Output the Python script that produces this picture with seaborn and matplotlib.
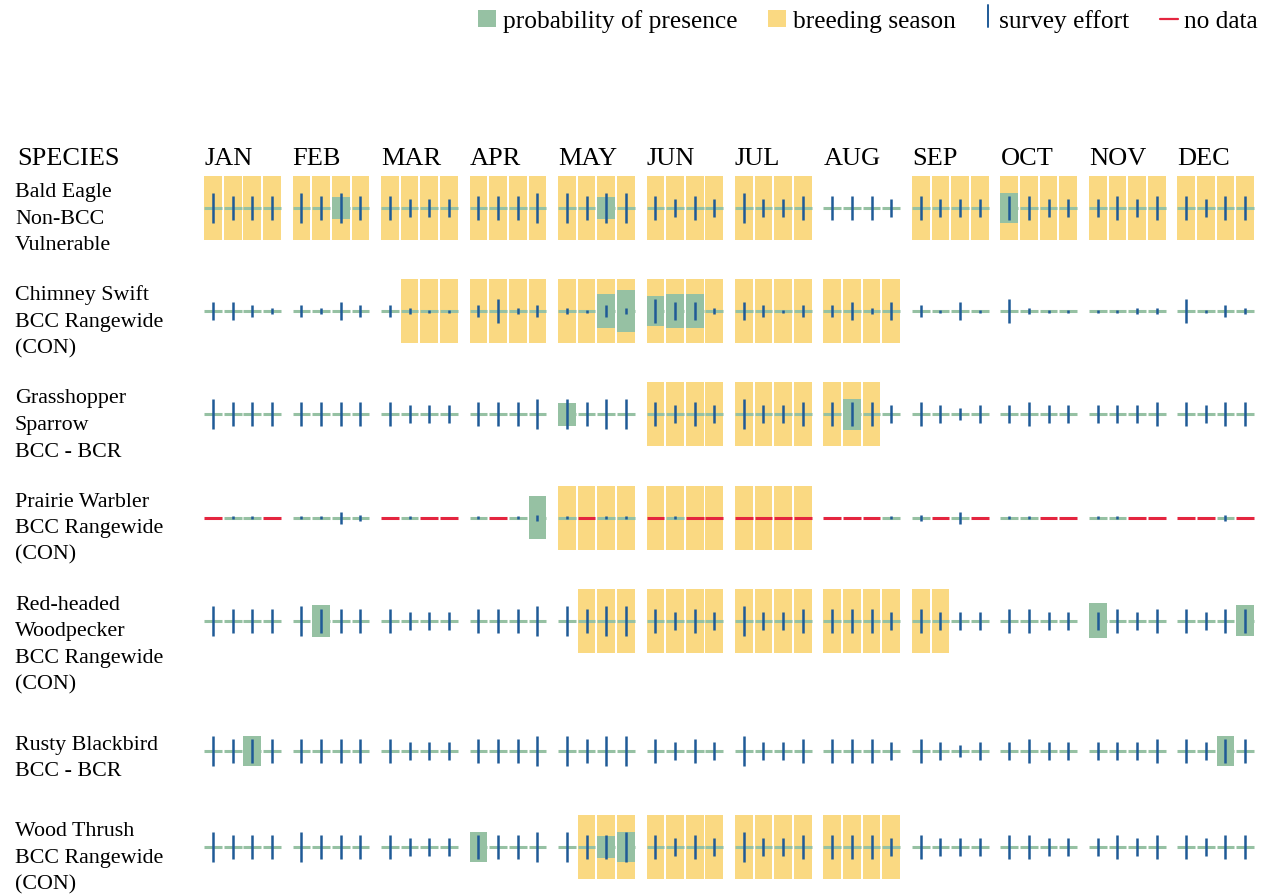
import numpy as np
import pandas as pd
import matplotlib
matplotlib.use("Agg")
import matplotlib.pyplot as plt
from matplotlib.patches import Rectangle
from matplotlib.lines import Line2D
import seaborn as sns

# ---------------------------------------------------------------- data
MONTHS = ["JAN", "FEB", "MAR", "APR", "MAY", "JUN",
          "JUL", "AUG", "SEP", "OCT", "NOV", "DEC"]

SPECIES = ["Bald Eagle", "Chimney Swift", "Grasshopper Sparrow",
           "Prairie Warbler", "Red-headed Woodpecker", "Rusty Blackbird",
           "Wood Thrush"]

LABELS = [
    ["Bald Eagle", "Non-BCC", "Vulnerable"],
    ["Chimney Swift", "BCC Rangewide", "(CON)"],
    ["Grasshopper", "Sparrow", "BCC - BCR"],
    ["Prairie Warbler", "BCC Rangewide", "(CON)"],
    ["Red-headed", "Woodpecker", "BCC Rangewide", "(CON)"],
    ["Rusty Blackbird", "BCC - BCR"],
    ["Wood Thrush", "BCC Rangewide", "(CON)"],
]

# survey effort per week (4 weeks per month, 0 = no data)
EFFORT_BALD_EAGLE = [5, 4, 4, 4, 5, 4, 5, 4, 4, 3, 3, 3, 4, 4, 4, 5, 5, 4, 5, 5, 4, 3, 4, 3,
                     5, 3, 3, 4, 4, 4, 4, 3, 4, 3, 3, 3, 4, 4, 3, 3, 3, 4, 3, 4, 4, 3, 4, 4]
EFFORT_CHIMNEY_SWIFT = [3, 3, 2, 1, 2, 1, 3, 2, 2, 1, .5, .5, 2, 4, 1, 2, 1, .5, 2, 1, 4, 3, 3, 1,
                        3, 2, .5, 2, 2, 3, 1, 3, 2, .5, 3, .5, 4, 1, .5, .5, .5, .5, 1, 1, 4, .5, 2, 1]
EFFORT_GRASSHOPPER = [5, 4, 4, 4, 4, 4, 4, 4, 4, 3, 3, 3, 4, 4, 4, 5, 5, 4, 5, 5, 4, 3, 4, 3,
                      5, 3, 3, 4, 4, 4, 4, 3, 4, 3, 2, 3, 3, 4, 3, 3, 3, 3, 3, 4, 4, 3, 4, 4]
EFFORT_PRAIRIE_WARBLER = [0, .5, .5, 0, .5, .5, 2, 1, 0, .5, 0, 0, .5, 0, .5, 1, .5, 0, .5, .5, 0, .5, 0, 0,
                          0, 0, 0, 0, 0, 0, 0, .5, 1, 0, 2, 0, .5, .5, 0, 0, .5, .5, 0, 0, 0, 0, 1, 0]
EFFORT_RED_HEADED = [5, 4, 4, 4, 5, 4, 4, 4, 4, 3, 3, 3, 4, 4, 4, 5, 5, 4, 5, 5, 4, 3, 4, 3,
                     5, 3, 3, 4, 4, 4, 4, 3, 4, 3, 3, 3, 4, 4, 3, 3, 3, 4, 3, 4, 4, 3, 4, 4]
EFFORT_RUSTY = [5, 4, 4, 4, 4, 4, 4, 4, 4, 3, 3, 3, 4, 4, 4, 5, 5, 4, 5, 5, 4, 3, 4, 3,
                5, 3, 3, 4, 4, 4, 4, 3, 4, 3, 2, 3, 3, 4, 3, 3, 3, 3, 3, 4, 4, 3, 4, 4]
EFFORT_WOOD_THRUSH = [5, 4, 4, 4, 5, 4, 4, 4, 4, 3, 3, 3, 4, 4, 4, 5, 5, 4, 4, 5, 4, 3, 4, 3,
                      5, 3, 3, 4, 4, 4, 4, 3, 4, 3, 3, 3, 4, 4, 3, 3, 3, 4, 3, 4, 4, 3, 4, 4]

# probability of presence per week (0-1)
PRESENCE_BALD_EAGLE = [0, 0, 0, 0, 0, 0, .35, 0, 0, 0, 0, 0, 0, 0, 0, 0, 0, 0, .35, 0, 0, 0, 0, 0,
                       0, 0, 0, 0, 0, 0, 0, 0, 0, 0, 0, 0, .48, 0, 0, 0, 0, 0, 0, 0, 0, 0, 0, 0]
PRESENCE_CHIMNEY_SWIFT = [0, 0, 0, 0, 0, 0, 0, 0, 0, 0, 0, 0, 0, 0, 0, 0, 0, 0, .53, .66, .47, .53, .53, 0,
                          0, 0, 0, 0, 0, 0, 0, 0, 0, 0, 0, 0, 0, 0, 0, 0, 0, 0, 0, 0, 0, 0, 0, 0]
PRESENCE_GRASSHOPPER = [0, 0, 0, 0, 0, 0, 0, 0, 0, 0, 0, 0, 0, 0, 0, 0, .36, 0, 0, 0, 0, 0, 0, 0,
                        0, 0, 0, 0, 0, .48, 0, 0, 0, 0, 0, 0, 0, 0, 0, 0, 0, 0, 0, 0, 0, 0, 0, 0]
PRESENCE_PRAIRIE_WARBLER = [0, 0, 0, 0, 0, 0, 0, 0, 0, 0, 0, 0, 0, 0, 0, .66, 0, 0, 0, 0, 0, 0, 0, 0,
                            0, 0, 0, 0, 0, 0, 0, 0, 0, 0, 0, 0, 0, 0, 0, 0, 0, 0, 0, 0, 0, 0, 0, 0]
PRESENCE_RED_HEADED = [0, 0, 0, 0, 0, .5, 0, 0, 0, 0, 0, 0, 0, 0, 0, 0, 0, 0, 0, 0, 0, 0, 0, 0,
                       0, 0, 0, 0, 0, 0, 0, 0, 0, 0, 0, 0, 0, 0, 0, 0, .55, 0, 0, 0, 0, 0, 0, .48]
PRESENCE_RUSTY = [0, 0, .47, 0, 0, 0, 0, 0, 0, 0, 0, 0, 0, 0, 0, 0, 0, 0, 0, 0, 0, 0, 0, 0,
                  0, 0, 0, 0, 0, 0, 0, 0, 0, 0, 0, 0, 0, 0, 0, 0, 0, 0, 0, 0, 0, 0, .47, 0]
PRESENCE_WOOD_THRUSH = [0, 0, 0, 0, 0, 0, 0, 0, 0, 0, 0, 0, .47, 0, 0, 0, 0, 0, .34, .47, 0, 0, 0, 0,
                        0, 0, 0, 0, 0, 0, 0, 0, 0, 0, 0, 0, 0, 0, 0, 0, 0, 0, 0, 0, 0, 0, 0, 0]

# breeding season weeks (1 = breeding)
BREEDING_BALD_EAGLE = [1, 1, 1, 1, 1, 1, 1, 1, 1, 1, 1, 1, 1, 1, 1, 1, 1, 1, 1, 1, 1, 1, 1, 1,
                       1, 1, 1, 1, 0, 0, 0, 0, 1, 1, 1, 1, 1, 1, 1, 1, 1, 1, 1, 1, 1, 1, 1, 1]
BREEDING_CHIMNEY_SWIFT = [0, 0, 0, 0, 0, 0, 0, 0, 0, 1, 1, 1, 1, 1, 1, 1, 1, 1, 1, 1, 1, 1, 1, 1,
                          1, 1, 1, 1, 1, 1, 1, 1, 0, 0, 0, 0, 0, 0, 0, 0, 0, 0, 0, 0, 0, 0, 0, 0]
BREEDING_GRASSHOPPER = [0, 0, 0, 0, 0, 0, 0, 0, 0, 0, 0, 0, 0, 0, 0, 0, 0, 0, 0, 0, 1, 1, 1, 1,
                        1, 1, 1, 1, 1, 1, 1, 0, 0, 0, 0, 0, 0, 0, 0, 0, 0, 0, 0, 0, 0, 0, 0, 0]
BREEDING_PRAIRIE_WARBLER = [0, 0, 0, 0, 0, 0, 0, 0, 0, 0, 0, 0, 0, 0, 0, 0, 1, 1, 1, 1, 1, 1, 1, 1,
                            1, 1, 1, 1, 0, 0, 0, 0, 0, 0, 0, 0, 0, 0, 0, 0, 0, 0, 0, 0, 0, 0, 0, 0]
BREEDING_RED_HEADED = [0, 0, 0, 0, 0, 0, 0, 0, 0, 0, 0, 0, 0, 0, 0, 0, 0, 1, 1, 1, 1, 1, 1, 1,
                       1, 1, 1, 1, 1, 1, 1, 1, 1, 1, 0, 0, 0, 0, 0, 0, 0, 0, 0, 0, 0, 0, 0, 0]
BREEDING_RUSTY = [0, 0, 0, 0, 0, 0, 0, 0, 0, 0, 0, 0, 0, 0, 0, 0, 0, 0, 0, 0, 0, 0, 0, 0,
                  0, 0, 0, 0, 0, 0, 0, 0, 0, 0, 0, 0, 0, 0, 0, 0, 0, 0, 0, 0, 0, 0, 0, 0]
BREEDING_WOOD_THRUSH = [0, 0, 0, 0, 0, 0, 0, 0, 0, 0, 0, 0, 0, 0, 0, 0, 0, 1, 1, 1, 1, 1, 1, 1,
                        1, 1, 1, 1, 1, 1, 1, 1, 0, 0, 0, 0, 0, 0, 0, 0, 0, 0, 0, 0, 0, 0, 0, 0]

# weeks without survey data (red marks)
NO_DATA_PRAIRIE_WARBLER = [0, 3, 8, 10, 11, 13, 17, 20, 22, 23, 24, 25, 26, 27,
                           28, 29, 30, 33, 35, 38, 39, 42, 43, 44, 45, 47]

EFFORT = [EFFORT_BALD_EAGLE, EFFORT_CHIMNEY_SWIFT, EFFORT_GRASSHOPPER,
          EFFORT_PRAIRIE_WARBLER, EFFORT_RED_HEADED, EFFORT_RUSTY, EFFORT_WOOD_THRUSH]
PRESENCE = [PRESENCE_BALD_EAGLE, PRESENCE_CHIMNEY_SWIFT, PRESENCE_GRASSHOPPER,
            PRESENCE_PRAIRIE_WARBLER, PRESENCE_RED_HEADED, PRESENCE_RUSTY, PRESENCE_WOOD_THRUSH]
BREEDING = [BREEDING_BALD_EAGLE, BREEDING_CHIMNEY_SWIFT, BREEDING_GRASSHOPPER,
            BREEDING_PRAIRIE_WARBLER, BREEDING_RED_HEADED, BREEDING_RUSTY, BREEDING_WOOD_THRUSH]
NO_DATA = [[], [], [], NO_DATA_PRAIRIE_WARBLER, [], [], []]

# ---------------------------------------------------------------- style
GREEN = "#96c1a3"
YELLOW = "#fad982"
BLUE = "#1f5a97"
RED = "#e4253f"

W, H, DPI = 1272, 894, 100
SLOT_PX = 19.66          # horizontal pixels per week slot
FIRST_CENTER_PX = 213.0  # centre of the first week cell
CELL = 0.9               # cell width in slot units
BOX_H = 64               # full box height (px)
EFFORT_PX = 6.0          # px of survey-effort line per effort unit
LINE_H = 26.6            # label line height
ROW_PAD = 23.4
FIRST_ROW = 208.0

sns.set_theme(style="white")
plt.rcParams["font.family"] = ["Liberation Serif", "DejaVu Serif"]

# long-form table, one row per species-week
records = []
row_y = []
y = FIRST_ROW
for i, name in enumerate(SPECIES):
    row_y.append(y)
    nd = set(NO_DATA[i])
    for w in range(48):
        m, k = divmod(w, 4)
        records.append(dict(species=name, week=w, slot=m * 4.5 + k, y=y,
                            effort=EFFORT[i][w], presence=PRESENCE[i][w],
                            breeding=BREEDING[i][w], nodata=int(w in nd)))
    y += max(LINE_H * len(LABELS[i]), 73) + ROW_PAD
df = pd.DataFrame(records)

fig = plt.figure(figsize=(W / DPI, H / DPI), dpi=DPI)
ax = fig.add_axes([0, 0, 1, 1])
ax.set_xlim(-FIRST_CENTER_PX / SLOT_PX, (W - FIRST_CENTER_PX) / SLOT_PX)
ax.set_ylim(H, 0)
ax.axis("off")

# breeding season boxes
br = df[df.breeding == 1]
ax.bar(br.slot, BOX_H, bottom=br.y - BOX_H / 2, width=CELL, color=YELLOW,
       linewidth=0, zorder=1)

# probability of presence boxes
pr = df[df.presence > 0]
ax.bar(pr.slot, pr.presence * BOX_H, bottom=pr.y - pr.presence * BOX_H / 2,
       width=CELL, color=GREEN, linewidth=0, zorder=2)

# baseline segments per week (red where no data)
for flag, col in [(0, GREEN), (1, RED)]:
    seg = df[df.nodata == flag]
    ax.hlines(seg.y, seg.slot - CELL / 2, seg.slot + CELL / 2, color=col,
              linewidth=2.2, zorder=3, capstyle="butt")

# survey effort ticks
ef = df[df.effort > 0]
levels = sorted(ef.effort.unique())
size_map = {v: (v * EFFORT_PX * 72 / DPI) ** 2 for v in levels}
sns.scatterplot(data=ef, x="slot", y="y", size="effort", sizes=size_map,
                marker="|", color=BLUE, linewidth=1.8, legend=False, ax=ax,
                zorder=4)

# header
def fx(px):
    return px / W

def fy(py):
    return 1 - py / H

HEAD_BASE = 165
fig.text(fx(17), fy(HEAD_BASE), "SPECIES", fontsize=19, va="baseline",
         ha="left", color="black")
for m, name in enumerate(MONTHS):
    ax.text(m * 4.5 - CELL / 2, HEAD_BASE, name, fontsize=19, va="baseline",
            ha="left", color="black")

# species labels
for i, lines in enumerate(LABELS):
    first = row_y[i] - (1 if len(lines) == 2 else 11)
    for j, t in enumerate(lines):
        fig.text(fx(15), fy(first + j * LINE_H), t, fontsize=15.8,
                 va="baseline", ha="left", color="black")

# legend
LEG_BASE = 28
LEG_FS = 18.3
for x0, col in [(478, GREEN), (768, YELLOW)]:
    fig.patches.append(Rectangle((fx(x0), fy(27)), 18 / W, 17 / H,
                                 transform=fig.transFigure, color=col,
                                 linewidth=0))
fig.lines.append(Line2D([fx(988), fx(988)], [fy(27), fy(5)],
                        transform=fig.transFigure, color=BLUE, linewidth=1.4))
fig.lines.append(Line2D([fx(1160), fx(1178)], [fy(19), fy(19)],
                        transform=fig.transFigure, color=RED, linewidth=1.6))
for x0, t in [(503, "probability of presence"), (793, "breeding season"),
              (999, "survey effort"), (1184, "no data")]:
    fig.text(fx(x0), fy(LEG_BASE), t, fontsize=LEG_FS, va="baseline",
             ha="left", color="black")

fig.savefig("out.png", dpi=DPI, facecolor="white")
